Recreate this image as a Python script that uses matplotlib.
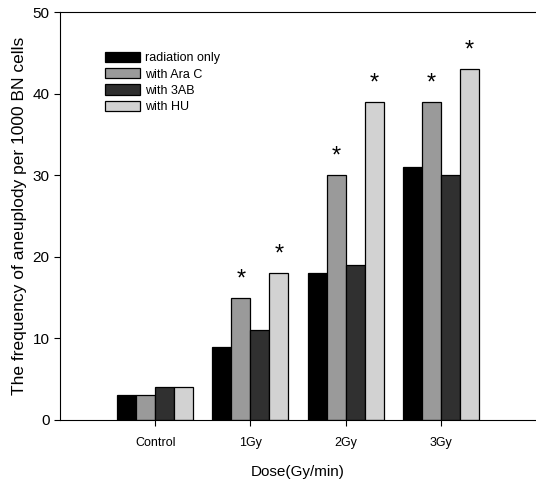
import matplotlib
matplotlib.use("Agg")
import matplotlib.pyplot as plt
import numpy as np

categories = ["Control", "1Gy", "2Gy", "3Gy"]
series_names = ["radiation only", "with Ara C", "with 3AB", "with HU"]
radiation_only = [3, 9, 18, 31]
with_arac = [3, 15, 30, 39]
with_3ab = [4, 11, 19, 30]
with_hu = [4, 18, 39, 43]
star_arac = [False, True, True, True]
star_hu = [False, True, True, True]

plt.rcParams['font.family'] = ['Liberation Sans', 'DejaVu Sans']

fig = plt.figure(figsize=(5.36, 4.9), dpi=100)
ax = fig.add_axes([0.112, 0.143, 0.888, 0.8325])

colors = ["#000000", "#9a9a9a", "#303030", "#d2d2d2"]
data = [radiation_only, with_arac, with_3ab, with_hu]
stars = [None, star_arac, None, star_hu]
x = np.arange(len(categories))
w = 0.2
for i, (vals, name) in enumerate(zip(data, series_names)):
    pos = x + (i - 1.5) * w
    ax.bar(pos, vals, width=w, color=colors[i], edgecolor="black",
           linewidth=0.9, label=name)
    if stars[i] is not None:
        for p, v, s in zip(pos, vals, stars[i]):
            if s:
                ax.text(p, v + 0.9, "*", ha="center", va="bottom", fontsize=17)

ax.set_xlim(-1, 4)
ax.set_ylim(0, 50)
ax.set_yticks([0, 10, 20, 30, 40, 50])
ax.set_xticks(x)
ax.set_xticklabels(categories, fontsize=9)
ax.tick_params(axis='y', labelsize=11, direction='out', length=4)
ax.tick_params(axis='x', direction='out', length=4, pad=8)
ax.spines['right'].set_visible(False)
ax.set_ylabel("The frequency of aneuplody per 1000 BN cells", fontsize=12.5)
ax.set_xlabel("Dose(Gy/min)", fontsize=11, labelpad=12)

ax.legend(loc="upper left", bbox_to_anchor=(0.07, 0.93), frameon=False,
          fontsize=9, handlelength=2.8, handleheight=0.9, labelspacing=0.3,
          handletextpad=0.4)

fig.savefig("out.png", dpi=100)
